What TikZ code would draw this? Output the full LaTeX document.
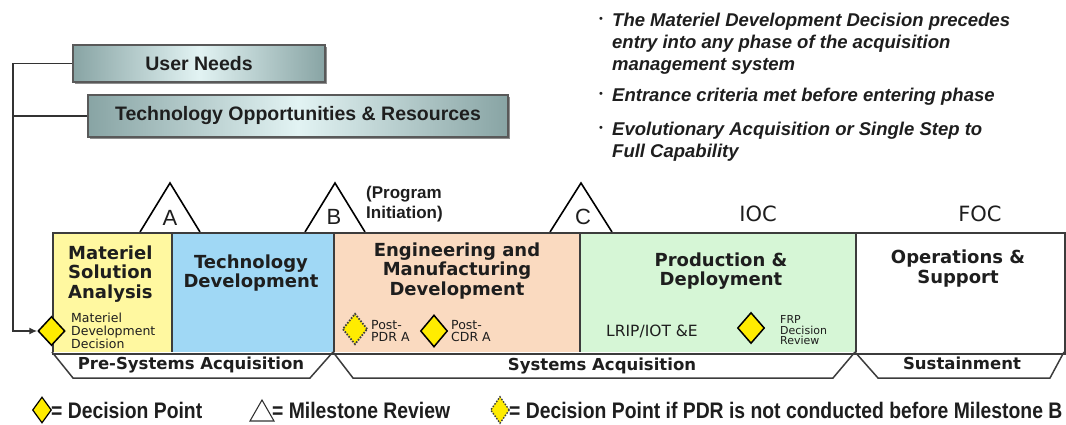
\documentclass[tikz,border=0pt]{standalone}
\usepackage{fontspec}
\setmainfont{Liberation Sans}
\newfontfamily\dvs{DejaVu Sans}
\newfontfamily\narrowsans[FakeStretch=0.86]{Liberation Sans}
\usetikzlibrary{shapes.geometric,arrows.meta,shadows}
\newcommand\fsz[2]{\fontsize{#1}{#2}\selectfont}
\definecolor{msac}{RGB}{255,248,160}
\definecolor{tdc}{RGB}{160,216,245}
\definecolor{emdc}{RGB}{250,218,192}
\definecolor{pdc}{RGB}{214,246,214}
\definecolor{dpy}{RGB}{255,236,0}
\definecolor{boxedge}{RGB}{136,164,164}
\definecolor{boxmid}{RGB}{226,243,243}
\definecolor{lineg}{RGB}{60,60,60}
\definecolor{txt}{RGB}{30,30,30}
\begin{document}
\begin{tikzpicture}[x=1pt,y=-1pt,
  phasebox/.style={draw=lineg, line width=1.8pt, anchor=north west, inner sep=0, minimum height=120},
  ttl/.style={font=\dvs\bfseries\fsz{18}{19.5}, align=center, text=txt, inner sep=0},
  small/.style={font=\dvs\fsz{12.5}{12.5}, align=left, text=txt, inner sep=0},
  ms/.style={draw=black, line width=1.6pt, fill=white, line join=miter},
  mslet/.style={font=\fsz{22}{22}, inner sep=0, text=txt},
  dp/.style={diamond, draw=black, line width=1.5pt, fill=dpy, inner sep=0, minimum width=27, minimum height=29},
  dpd/.style={diamond, draw=black!75, line width=1.8pt, dash pattern=on 1.6pt off 1.4pt, fill=dpy, inner sep=0, minimum width=25, minimum height=31},
  topbox/.style={draw=black!65, line width=1.5pt, left color=boxedge, right color=boxedge, middle color=boxmid,
     drop shadow={shadow xshift=2pt, shadow yshift=-2pt, fill=black!55, opacity=0.8},
     font=\bfseries\fsz{19.5}{19.5}, text=txt, inner sep=0},
  conn/.style={draw=black!80, line width=1.5pt},
  trap/.style={draw=lineg, line width=1.5pt, fill=white, line join=miter},
  trapt/.style={font=\dvs\bfseries\fsz{16.5}{16.5}, text=txt, inner sep=0},
  bt/.style={font=\bfseries\itshape\fsz{18.5}{22}, align=left, text=txt, inner sep=0, anchor=north west},
  bul/.style={font=\fsz{11}{11}, inner sep=0, text=txt},
  leg/.style={font=\narrowsans\bfseries\fsz{22.5}{22.5}, text=txt, inner sep=0, anchor=west},
  caplabel/.style={font=\dvs\fsz{21}{21}, text=txt, inner sep=0}
]
\useasboundingbox (0,0) rectangle (1066,425);

% top boxes
\node[topbox, minimum width=252, minimum height=37] (un) at (199,63.5) {User Needs};
\node[topbox, minimum width=420, minimum height=42] (tor) at (298,116) {Technology Opportunities \& Resources};

% bullets
\node[bul] (b1) at (601,20) {\textbullet};
\node[bt] (t1) at (612,12.5) {The Materiel Development Decision precedes\\entry into any phase of the acquisition\\management system};
\node[bul] (b2) at (601,95) {\textbullet};
\node[bt] (t2) at (612,87.5) {Entrance criteria met before entering phase};
\node[bul] (b3) at (601,129) {\textbullet};
\node[bt] (t3) at (612,121.5) {Evolutionary Acquisition or Single Step to\\Full Capability};

% milestone triangles
\draw[ms] (140,232) -- (170,183) -- (200,232);
\draw[ms] (305,232) -- (335,183) -- (365,232);
\draw[ms] (550,232) -- (581,183) -- (612,232);
\node[mslet] (la) at (170,218) {A};
\node[mslet] (lb) at (334,217) {B};
\node[mslet] (lc) at (583,217) {C};
\node[font=\bfseries\fsz{17}{20}, align=left, inner sep=0, anchor=west, text=txt] (pi) at (366,204.5) {(Program\\Initiation)};
\node[caplabel] (ioc) at (758,214) {IOC};
\node[caplabel] (foc) at (980,214) {FOC};

% phases
\node[phasebox, fill=msac, minimum width=119] (msa) at (52,232) {};
\node[phasebox, fill=tdc, minimum width=162] (td) at (171,232) {};
\node[phasebox, fill=emdc, minimum width=246] (emd) at (333,232) {};
\node[phasebox, fill=pdc, minimum width=276] (pd) at (579,232) {};
\node[phasebox, fill=white, minimum width=209] (os) at (855,232) {};

\node[ttl, align=left, anchor=north west] (msat) at (68,245.5) {Materiel\\Solution\\Analysis};
\node[ttl] (tdt) at (251,273) {Technology\\Development};
\node[ttl] (emdt) at (457,271) {Engineering and\\Manufacturing\\Development};
\node[ttl] (pdt) at (721,271) {Production \&\\Deployment};
\node[ttl] (ost) at (958,268.5) {Operations \&\\Support};

% decision points
\node[dp] (mdd) at (51.5,331) {};
\node[small, anchor=north west, font=\dvs\fsz{12.5}{13}] (mddt) at (71,312.5) {Materiel\\Development\\Decision};
\node[dpd] (pdr) at (355,329) {};
\node[small, anchor=west] (pdrt) at (371,331) {Post-\\PDR A};
\node[dp, minimum height=32] (cdr) at (434,331) {};
\node[small, anchor=west] (cdrt) at (451,331) {Post-\\CDR A};
\node[small, anchor=west, font=\dvs\fsz{15.5}{15.5}] (lrip) at (606,331) {LRIP/IOT \&E};
\node[dp, minimum height=31] (frp) at (751,328) {};
\node[small, anchor=north west, font=\dvs\fsz{11}{10.5}] (frpt) at (780,315.5) {FRP\\Decision\\Review};

% bottom trapezoids
\draw[trap] (52,352) -- (73,378) -- (310,378) -- (333,352);
\draw[trap] (333,352) -- (353,378) -- (833,378) -- (855,352);
\draw[trap] (855,352) -- (878,378) -- (1050,378) -- (1064,352);
\draw[draw=lineg, line width=1.8pt] (msa.south west) -- (os.south east);
\node[trapt] (psa) at (191,365) {Pre-Systems Acquisition};
\node[trapt] (sa) at (602,366) {Systems Acquisition};
\node[trapt] (sus) at (962,363) {Sustainment};

% connectors
\coordinate (corner) at (13,63.5);
\draw[conn, -{Latex[length=8pt,width=7pt]}] (un.west) -- (corner) |- (mdd.west);
\draw[conn] (tor.west) -- (tor.west -| corner);

% legend
\node[dp, minimum width=19, minimum height=26, line width=1.2pt] (lg1) at (42,410) {};
\node[leg] (lt1) at (51,410) {= Decision Point};
\draw[draw=black!80, line width=1.1pt, fill=white] (250,421) -- (262,400) -- (274,421) -- cycle;
\node[leg] (lt2) at (272,410) {= Milestone Review};
\node[dpd, minimum width=19, minimum height=27, line width=1.4pt] (lg3) at (500,410) {};
\node[leg] (lt3) at (509,410) {= Decision Point if PDR is not conducted before Milestone B};
\end{tikzpicture}
\end{document}
